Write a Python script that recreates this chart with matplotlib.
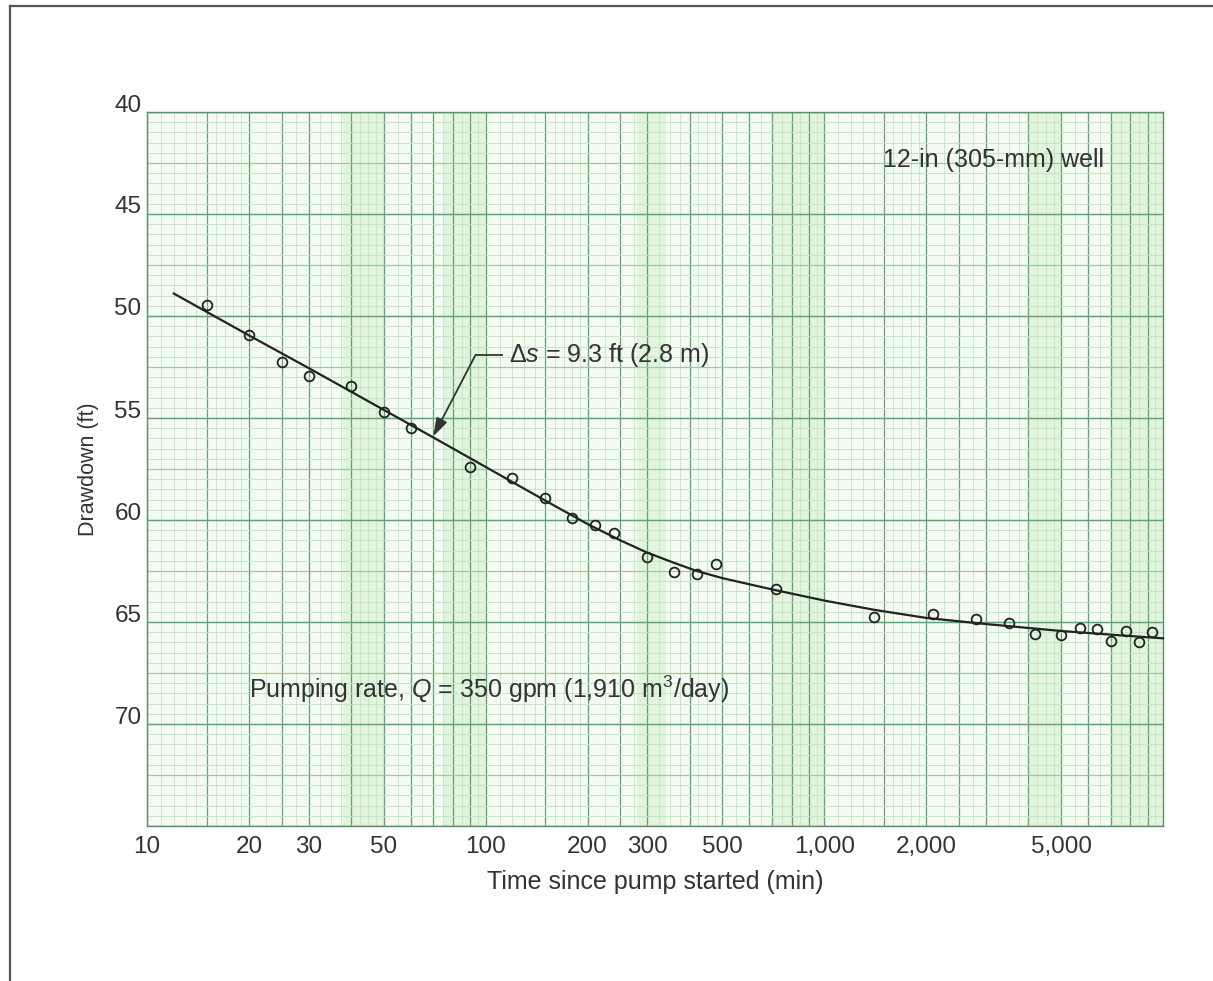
import numpy as np
import matplotlib
matplotlib.use("Agg")
import matplotlib.pyplot as plt
import matplotlib.transforms as mtransforms
from matplotlib.lines import Line2D

plt.rcParams["font.family"] = ["Liberation Sans", "DejaVu Sans"]
plt.rcParams["mathtext.fontset"] = "custom"
plt.rcParams["mathtext.rm"] = "Liberation Sans"
plt.rcParams["mathtext.it"] = "Liberation Sans:italic"

# measured drawdown (time in min, drawdown in ft)
time_obs = [15, 20, 25, 30, 40, 50, 60, 90, 120, 150, 180, 210, 240, 300, 360,
            420, 480, 720, 1400, 2100, 2800, 3500, 4200, 5000, 5700, 6400,
            7000, 7800, 8500, 9300]
drawdown_obs = [49.45, 50.95, 52.25, 52.95, 53.45, 54.7, 55.5, 57.4, 57.95,
                58.9, 59.9, 60.25, 60.65, 61.8, 62.55, 62.65, 62.15, 63.4,
                64.75, 64.6, 64.85, 65.05, 65.6, 65.65, 65.3, 65.35, 65.95,
                65.45, 66.0, 65.5]

# hand-fitted curve
time_fit = [12, 20, 30, 50, 70, 100, 150, 200, 250, 300, 360, 420, 500, 700,
            1000, 1400, 2000, 3000, 5000, 7000, 10000]
drawdown_fit = [48.9, 50.95, 52.55, 54.6, 55.95, 57.4, 59.05, 60.2, 61.0,
                61.6, 62.1, 62.5, 62.85, 63.4, 63.95, 64.4, 64.8, 65.1,
                65.44, 65.62, 65.8]

x_ticks = [10, 20, 30, 50, 100, 200, 300, 500, 1000, 2000, 5000]
x_ticklabels = ["10", "20", "30", "50", "100", "200", "300", "500",
                "1,000", "2,000", "5,000"]
y_ticks = [40, 45, 50, 55, 60, 65, 70]

fig = plt.figure(figsize=(12.13, 9.81), dpi=100)
ax = fig.add_axes([147 / 1213, 1 - 826 / 981, 1016 / 1213, 714 / 981])
ax.set_xscale("log")
ax.set_xlim(10, 10000)
ax.set_ylim(75, 40)
ax.set_facecolor("#f4fbf2")

# slightly darker paper bands (scan look)
for a, b in [(38, 50), (75, 100), (280, 340), (700, 1000), (4000, 5000),
             (7000, 10000)]:
    ax.axvspan(a, b, color="#e2f4de", lw=0, zorder=0)

# log graph paper grid
light, mid, dark = "#c4e5c2", "#98cca2", "#66a277"
for dec in [10, 100, 1000]:
    fine = list(np.arange(1, 2, 0.1)) + list(np.arange(2, 5, 0.25)) + \
        list(np.arange(5, 10, 0.5))
    for m in fine:
        ax.axvline(m * dec, color=light, lw=0.6, zorder=1)
    for m in np.arange(1, 10, 1):
        ax.axvline(m * dec, color=mid, lw=0.8, zorder=1)
    for m in [1, 1.5, 2, 2.5, 3, 4, 5, 6, 7, 8, 9]:
        ax.axvline(m * dec, color=dark, lw=0.9, zorder=1)
for y in np.arange(40, 75.01, 0.5):
    ax.axhline(y, color=light, lw=0.7, zorder=1)
for y in np.arange(40, 75.01, 2.5):
    ax.axhline(y, color=mid, lw=0.9, zorder=1)
for y in np.arange(40, 75.01, 5):
    ax.axhline(y, color=dark, lw=1.0, zorder=1)

for s in ax.spines.values():
    s.set_color("#5d8f6a")
    s.set_linewidth(1.0)

ax.plot(time_fit, drawdown_fit, color="#222222", lw=1.6, zorder=3,
        clip_on=False)
ax.plot(time_obs, drawdown_obs, "o", ms=7, mfc="none", mec="#222222",
        mew=1.3, zorder=4)

ax.set_xticks(x_ticks)
ax.set_xticklabels(x_ticklabels)
ax.xaxis.set_minor_locator(matplotlib.ticker.NullLocator())
ax.set_yticks(y_ticks)
ax.tick_params(length=0, labelsize=17.5, colors="#333333")
ax.tick_params(axis="x", pad=7)
ax.tick_params(axis="y", pad=4)
shift = mtransforms.ScaledTranslation(0, 9 / 100, fig.dpi_scale_trans)
for lab in ax.get_yticklabels():
    lab.set_transform(lab.get_transform() + shift)

ax.set_xlabel("Time since pump started (min)", fontsize=18,
              color="#333333", labelpad=9)
ax.set_ylabel("Drawdown (ft)", fontsize=15.5, color="#333333", labelpad=11)

ax.text(3150, 42.35, "12-in (305-mm) well", fontsize=18, color="#333333",
        ha="center", va="center", zorder=5)
ax.text(20, 68.3, r"Pumping rate, $Q$ = 350 gpm (1,910 m$^3$/day)",
        fontsize=18, color="#333333", ha="left", va="center", zorder=5)
ax.text(117, 51.9, r"$\Delta s$ = 9.3 ft (2.8 m)", fontsize=18,
        color="#333333", ha="left", va="center", zorder=5)
ax.plot([93.4, 112], [51.9, 51.9], color="#333333", lw=1.3, zorder=5)
ax.annotate("", xy=(70, 55.9), xytext=(93.4, 51.9),
            arrowprops=dict(arrowstyle="-|>,head_length=1.1,head_width=0.35",
                            color="#333333", lw=1.3, shrinkA=0, shrinkB=0),
            zorder=5)

# page border
fig.add_artist(Line2D([10 / 1213, 1], [1 - 6 / 981, 1 - 6 / 981],
                      color="#555555", lw=1.6))
fig.add_artist(Line2D([10 / 1213, 10 / 1213], [0, 1 - 6 / 981],
                      color="#555555", lw=1.6))

fig.savefig("out.png", dpi=100)
